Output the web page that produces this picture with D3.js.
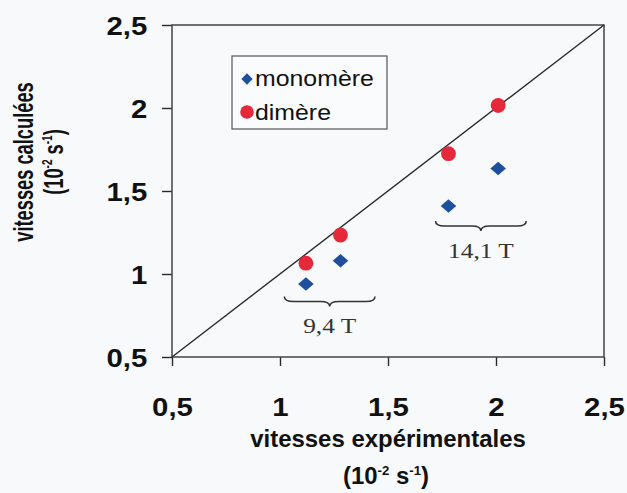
<!DOCTYPE html>
<html>
<head>
<meta charset="utf-8">
<script src="https://cdn.jsdelivr.net/npm/d3@7"></script>
<style>
  html, body { margin: 0; padding: 0; background: #f7f9fb; }
  svg { display: block; }
</style>
</head>
<body>
<svg id="chart" width="627" height="493"></svg>
<script>
// ---- data ----
const xTicks = [0.5, 1, 1.5, 2, 2.5];
const yTicks = [0.5, 1, 1.5, 2, 2.5];
const tickLabels = ["0,5", "1", "1,5", "2", "2,5"];
const seriesNames = ["monomère", "dimère"];
const vitessesExp = [1.12, 1.28, 1.78, 2.01];
const monomere = [0.94, 1.08, 1.41, 1.635];
const dimere = [1.065, 1.235, 1.725, 2.015];
const groupLabels = ["9,4 T", "14,1 T"];
const groupXStart = [1.02, 1.72];
const groupXEnd = [1.44, 2.14];
const groupY = [0.865, 1.32];

// ---- layout ----
const svg = d3.select("#chart");
const x = d3.scaleLinear().domain([0.5, 2.5]).range([172, 604]);
const y = d3.scaleLinear().domain([0.5, 2.5]).range([357, 25]);
const ink = "#2a2a2a";
const SANS = "Liberation Sans, Arial, sans-serif";
const TICK_SX = 1.15;

// axes (ticks only)
const gy = svg.append("g").attr("transform", `translate(${x(0.5)},0)`)
  .call(d3.axisLeft(y).tickValues(yTicks).tickFormat(d => tickLabels[yTicks.indexOf(d)])
    .tickSizeInner(10).tickSizeOuter(0).tickPadding(11.5));
const gx = svg.append("g").attr("transform", `translate(0,${y(0.5)})`)
  .call(d3.axisBottom(x).tickValues(xTicks).tickFormat(d => tickLabels[xTicks.indexOf(d)])
    .tickSizeInner(9).tickSizeOuter(0).tickPadding(32));
[gx, gy].forEach(g => {
  g.select(".domain").remove();
  g.selectAll(".tick line").attr("stroke", ink).attr("stroke-width", 1.4);
  g.selectAll(".tick text")
    .attr("font-family", SANS)
    .attr("font-weight", "bold").attr("font-size", 25.5).attr("fill", "#111")
    .attr("transform", `scale(${TICK_SX},1)`);
});
gy.selectAll(".tick text").attr("dy", "0.36em");

// frame
svg.append("rect")
  .attr("x", x(0.5)).attr("y", y(2.5))
  .attr("width", x(2.5) - x(0.5)).attr("height", y(0.5) - y(2.5))
  .attr("fill", "none").attr("stroke", "#444").attr("stroke-width", 1.5);

// diagonal y = x
svg.append("line")
  .attr("x1", x(0.5)).attr("y1", y(0.5)).attr("x2", x(2.5)).attr("y2", y(2.5))
  .attr("stroke", ink).attr("stroke-width", 1.4);

// scaled text helper
function sText(g, px, py, size, opts = {}) {
  const sx = opts.sx || 1, sy = opts.sy || 1;
  return g.append("text")
    .attr("transform", opts.rotate
      ? `translate(${px},${py}) rotate(-90) scale(${sx},${sy})`
      : `translate(${px},${py}) scale(${sx},${sy})`)
    .attr("text-anchor", opts.anchor || "middle")
    .attr("font-family", opts.family || SANS)
    .attr("font-weight", opts.weight || "normal")
    .attr("font-size", size)
    .attr("fill", opts.fill || "#111");
}
function unitText(t, size) {
  const s = size * 0.55, up = size * 0.4;
  t.append("tspan").text("(10");
  t.append("tspan").attr("font-size", s).attr("dy", -up).text("-2");
  t.append("tspan").attr("dy", up).text(" s");
  t.append("tspan").attr("font-size", s).attr("dy", -up).text("-1");
  t.append("tspan").attr("dy", up).text(")");
}

// axis titles
const cx = (x(0.5) + x(2.5)) / 2;
sText(svg, cx, 447, 23.5, { weight: "bold", sx: 1.02 }).text("vitesses expérimentales");
unitText(sText(svg, cx - 2, 484, 23.5, { weight: "bold", sx: 1.02 }), 23.5);
sText(svg, 33, 162, 21.5, { weight: "bold", rotate: true, sx: 0.85, sy: 1.25 }).text("vitesses calculées");
unitText(sText(svg, 63, 162, 21.5, { weight: "bold", rotate: true, sx: 0.85, sy: 1.25 }), 21.5);

// markers
const blue = "#1d4f9d", red = "#e5283a";
const sq = d3.symbol().type(d3.symbolSquare);
svg.append("g").selectAll("path").data(vitessesExp).join("path")
  .attr("d", sq.size(100)())
  .attr("transform", (d, i) => `translate(${x(d)},${y(monomere[i])}) scale(1.1,0.95) rotate(45)`)
  .attr("fill", blue);
svg.append("g").selectAll("circle").data(vitessesExp).join("circle")
  .attr("cx", d => x(d)).attr("cy", (d, i) => y(dimere[i]))
  .attr("r", 7.4).attr("fill", red);

// braces + labels
function bracePath(x1, x2, yt, h) {
  const m = (x1 + x2) / 2, q = 9;
  return `M${x1},${yt} Q${x1},${yt + h / 2} ${x1 + q},${yt + h / 2} L${m - q},${yt + h / 2} ` +
    `Q${m},${yt + h / 2} ${m},${yt + h} Q${m},${yt + h / 2} ${m + q},${yt + h / 2} ` +
    `L${x2 - q},${yt + h / 2} Q${x2},${yt + h / 2} ${x2},${yt}`;
}
groupLabels.forEach((lab, i) => {
  const x1 = x(groupXStart[i]), x2 = x(groupXEnd[i]), yt = y(groupY[i]);
  svg.append("path").attr("d", bracePath(x1, x2, yt, 10))
    .attr("fill", "none").attr("stroke", "#333").attr("stroke-width", 1.5);
  sText(svg, (x1 + x2) / 2, yt + 37, 22,
    { family: "Liberation Serif, Times New Roman, serif", fill: "#333", sx: 1.15 }).text(lab);
});

// legend
const lg = svg.append("g");
lg.append("rect").attr("x", 232).attr("y", 56).attr("width", 155).attr("height", 73)
  .attr("fill", "#f9fbfc").attr("stroke", "#555").attr("stroke-width", 1.2);
lg.append("path").attr("d", sq.size(64)())
  .attr("transform", "translate(247,79) rotate(45)").attr("fill", blue);
lg.append("circle").attr("cx", 247).attr("cy", 112).attr("r", 6.8).attr("fill", red);
sText(lg, 255, 86, 22, { anchor: "start", sx: 1.13 }).text(seriesNames[0]);
sText(lg, 255, 120, 22, { anchor: "start", sx: 1.13 }).text(seriesNames[1]);
</script>
</body>
</html>
